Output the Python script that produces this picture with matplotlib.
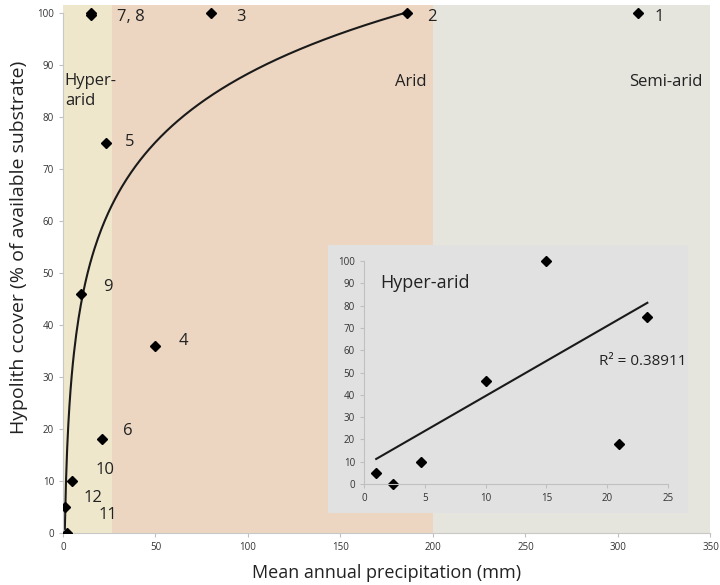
import numpy as np
import matplotlib
matplotlib.use('Agg')
import matplotlib.pyplot as plt
from matplotlib.patches import Rectangle

plt.rcParams['font.family'] = ['Open Sans', 'DejaVu Sans']

# main chart data (mm, % cover)
precip = [311, 185.7, 80, 50, 23.3, 21, 15, 15, 10, 4.7, 2.4, 1]
cover = [100, 100, 100, 36, 75, 18, 100, 99.5, 46, 10, 0, 5]
site_labels = ['1', '2', '3', '4', '5', '6', '7, 8', '', '9', '10', '11', '12']
label_pos = [(322.5, 99.2), (199.5, 99.2), (96, 99.2), (65, 37), (36, 75.2), (35, 19.6), (36.5, 99.2), None,
             (24, 47.3), (22.7, 12.1), (24.3, 3.5), (16.2, 6.7)]

# climate zones
zone_edges = [0, 26.3, 200, 350]
zone_colors = ['#EEE7CC', '#EDD6C1', '#E5E5DD']

# log trendline y = a*ln(x) + b
log_a, log_b = 19.0, 0.8
log_range = (1.0, 185.7)

# inset (hyper-arid sites)
ha_precip = [1, 2.4, 4.7, 10, 15, 21, 23.3]
ha_cover = [5, 0, 10, 46, 100, 18, 75]
lin_slope, lin_icpt = 3.14, 8.1
r2_text = 'R² = 0.38911'

fig = plt.figure(figsize=(7.2, 5.85), dpi=100)
ax = fig.add_axes([0.0875, 0.0889, 0.8993, 0.9026])
ax.set_xlim(0, 350)
ax.set_ylim(0, 101.5)

for i in range(len(zone_colors)):
    ax.axvspan(zone_edges[i], zone_edges[i + 1], color=zone_colors[i], zorder=0, lw=0)

xs = np.linspace(log_range[0], log_range[1], 300)
ax.plot(xs, log_a * np.log(xs) + log_b, color='#1a1a1a', lw=1.5, zorder=2)
ax.plot(precip, cover, 'D', color='black', ms=5, zorder=3)

for lab, pos in zip(site_labels, label_pos):
    if pos is None:
        continue
    ax.text(pos[0], pos[1], lab, fontsize=12, color='#222222', va='center', ha='center')

ax.text(1, 85, 'Hyper-\narid', fontsize=12, color='#222222', va='center', ha='left', linespacing=1.3)
ax.text(196.5, 86.7, 'Arid', fontsize=12, color='#222222', va='center', ha='right')
ax.text(345.5, 86.7, 'Semi-arid', fontsize=12, color='#222222', va='center', ha='right')

ax.set_xticks(range(0, 351, 50))
ax.set_yticks(range(0, 101, 10))
ax.tick_params(labelsize=7, colors='#BFBFBF', labelcolor='#333333', length=3)
for s in ['top', 'right']:
    ax.spines[s].set_visible(False)
for s in ['left', 'bottom']:
    ax.spines[s].set_color('#C8C8C8')
ax.spines['left'].set_bounds(0, 100)
ax.set_xlabel('Mean annual precipitation (mm)', fontsize=13, color='#222222', labelpad=8)
ax.set_ylabel('Hypolith ccover (% of available substrate)', fontsize=14, color='#222222')
ax.yaxis.set_label_coords(-0.054, 0.54)

# inset panel
fig.patches.append(Rectangle((0.4556, 0.1231), 0.5, 0.458, transform=fig.transFigure,
                             facecolor='#E1E1E1', edgecolor='none', zorder=5))
ins = fig.add_axes([0.5056, 0.1726, 0.4222, 0.3812], zorder=6)
ins.set_facecolor('#E1E1E1')
ins.set_xlim(0, 25)
ins.set_ylim(0, 100)
lx = np.array([ha_precip[0], ha_precip[-1]])
ins.plot(lx, lin_slope * lx + lin_icpt, color='#1a1a1a', lw=1.5)
ins.plot(ha_precip, ha_cover, 'D', color='black', ms=5.5, clip_on=False)
ins.text(1.3, 90, 'Hyper-arid', fontsize=13, color='#222222', va='center')
ins.text(19.3, 55, r2_text, fontsize=11, color='#222222', va='center')
ins.set_xticks(range(0, 26, 5))
ins.set_yticks(range(0, 101, 10))
ins.tick_params(labelsize=7, colors='#BFBFBF', labelcolor='#333333', length=3)
for s in ['top', 'right']:
    ins.spines[s].set_visible(False)
for s in ['left', 'bottom']:
    ins.spines[s].set_color('#C0C0C0')

fig.savefig('out.png', dpi=100)
